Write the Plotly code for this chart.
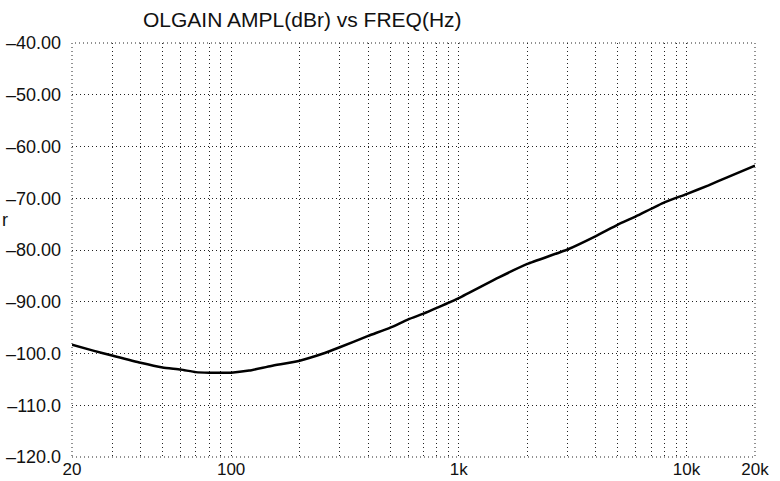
import plotly.graph_objects as go

freq = [20, 25, 30, 40, 50, 60, 70, 80, 90, 100, 120, 150, 200, 250, 300, 400, 500, 600, 700, 800,
        1000, 1500, 2000, 3000, 4000, 5000, 6000, 8000, 10000, 12500, 15000, 20000]
gain = [-98.3, -99.5, -100.4, -101.8, -102.7, -103.1, -103.6, -103.7, -103.7, -103.7, -103.3, -102.4,
        -101.4, -100.1, -98.8, -96.6, -95.0, -93.4, -92.3, -91.2,
        -89.3, -85.3, -82.7, -79.9, -77.3, -75.1, -73.5, -70.8, -69.2, -67.5, -66.0, -63.7]

x_grid = [20, 30, 40, 50, 60, 70, 80, 90, 100, 200, 300, 400, 500, 600, 700, 800, 900, 1000,
          2000, 3000, 4000, 5000, 6000, 7000, 8000, 9000, 10000, 20000]
x_labels = {20: "20", 100: "100", 1000: "1k", 10000: "10k", 20000: "20k"}
y_ticks = [-40, -50, -60, -70, -80, -90, -100, -110, -120]
y_labels = ["–40.00", "–50.00", "–60.00", "–70.00", "–80.00", "–90.00", "–100.0", "–110.0", "–120.0"]
title = "OLGAIN AMPL(dBr) vs FREQ(Hz)"

W, H = 780, 481
ml, mr, mt, mb = 72, 25, 43, 24
PW, PH = W - ml - mr, H - mt - mb
fam = "Liberation Sans, Arial, Helvetica, sans-serif"
tfont = dict(family=fam, size=18, color="#111")
xfont = dict(family=fam, size=17, color="#111")

fig = go.Figure()
fig.add_trace(go.Scatter(x=freq, y=gain, mode="lines",
                         line=dict(color="#000", width=2.5, shape="spline", smoothing=0.5),
                         hoverinfo="skip", showlegend=False))

fig.update_layout(
    width=W, height=H,
    margin=dict(l=ml, r=mr, t=mt, b=mb, autoexpand=False),
    paper_bgcolor="white", plot_bgcolor="white",
    font=tfont,
    showlegend=False,
    xaxis=dict(type="log", range=[1.30103, 4.30103], automargin=False,
               tickvals=x_grid, ticktext=[x_labels.get(v, "") for v in x_grid],
               showgrid=True, gridcolor="#222", gridwidth=1, griddash="1px,3px",
               ticks="", showline=False, zeroline=False, tickfont=xfont, ticklabelstandoff=0),
    yaxis=dict(range=[-120, -40], tickvals=y_ticks, ticktext=y_labels, automargin=False,
               showgrid=True, gridcolor="#222", gridwidth=1, griddash="1px,3px",
               ticks="", showline=False, zeroline=False, tickfont=tfont, ticklabelstandoff=10),
    shapes=[dict(type="rect", xref="paper", yref="paper", x0=0, x1=1, y0=0, y1=1,
                 line=dict(color="#222", width=1, dash="1px,3px"), layer="above")],
    annotations=[
        dict(text=title, xref="paper", yref="paper",
             x=(302 - ml) / PW, y=(H - mb - 20) / PH, xanchor="center", yanchor="middle",
             showarrow=False, font=dict(family=fam, size=21, color="#111")),
        dict(text="r", xref="paper", yref="paper",
             x=(0 - ml) / PW, y=(H - mb - 220) / PH,
             xanchor="left", yanchor="middle", showarrow=False, font=tfont),
    ],
)

fig.write_html("out.html")
